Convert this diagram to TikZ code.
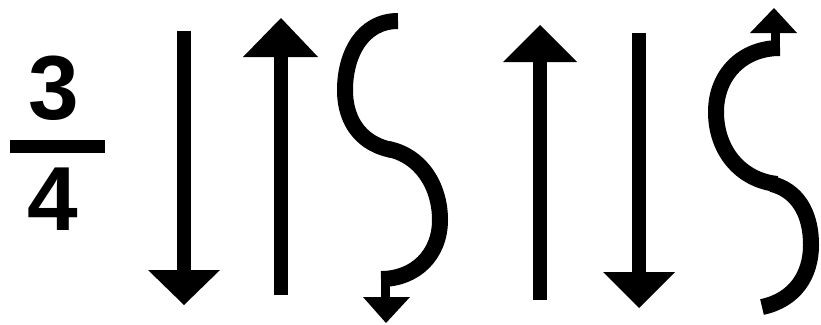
\documentclass[tikz,border=0pt]{standalone}
\usepackage{fontspec}
\setmainfont{Liberation Sans}
\begin{document}
\begin{tikzpicture}[x=1pt,y=-1pt,
  shaft/.style={line width=14pt,black},
  thin shaft/.style={line width=9pt,black},
  curve/.style={line width=16pt,black},
  head/.style={fill=black},
  digit/.style={inner sep=0pt,font=\fontsize{91}{91}\selectfont\bfseries}]
\useasboundingbox (0,0) rectangle (821,324);
% fraction
\node[digit] (three) at (54,88) {3};
\node[digit] (four) at (53,199) {4};
\fill (10,140) rectangle (105,153);
% arrow 1 down
\draw[shaft] (184,31) -- (184,271);
\fill[head] (148,270) -- (220,270) -- (184,305) -- cycle;
% arrow 2 up
\draw[shaft] (281,295) -- (281,56);
\fill[head] (243,57) -- (318,57) -- (281,18) -- cycle;
% S curve 1 (down)
\draw[curve] (398,21) .. controls (362,21) and (345,55) .. (345,90)
  .. controls (345,125) and (365,145) .. (392,150);
\draw[curve] (388,149) .. controls (420,155) and (440,185) .. (440,220)
  .. controls (440,255) and (415,279) .. (381,279);
\draw[thin shaft] (385,278) -- (385,298);
\fill[head] (363,297) -- (410,297) -- (386,323) -- cycle;
% arrow 4 up
\draw[shaft] (540,300) -- (540,61);
\fill[head] (503,62) -- (577,62) -- (540,25) -- cycle;
% arrow 5 down
\draw[shaft] (639,33) -- (639,273);
\fill[head] (603,272) -- (675,272) -- (639,308) -- cycle;
% S curve 2 (up)
\draw[curve] (762,307) .. controls (795,300) and (811,275) .. (811,245)
  .. controls (811,210) and (795,190) .. (772,184);
\draw[curve] (777,184) .. controls (740,180) and (716,150) .. (716,112)
  .. controls (716,75) and (742,48) .. (780,48);
\draw[thin shaft] (775,52) -- (775,32);
\fill[head] (750,33) -- (797,33) -- (774,8) -- cycle;
\end{tikzpicture}
\end{document}
